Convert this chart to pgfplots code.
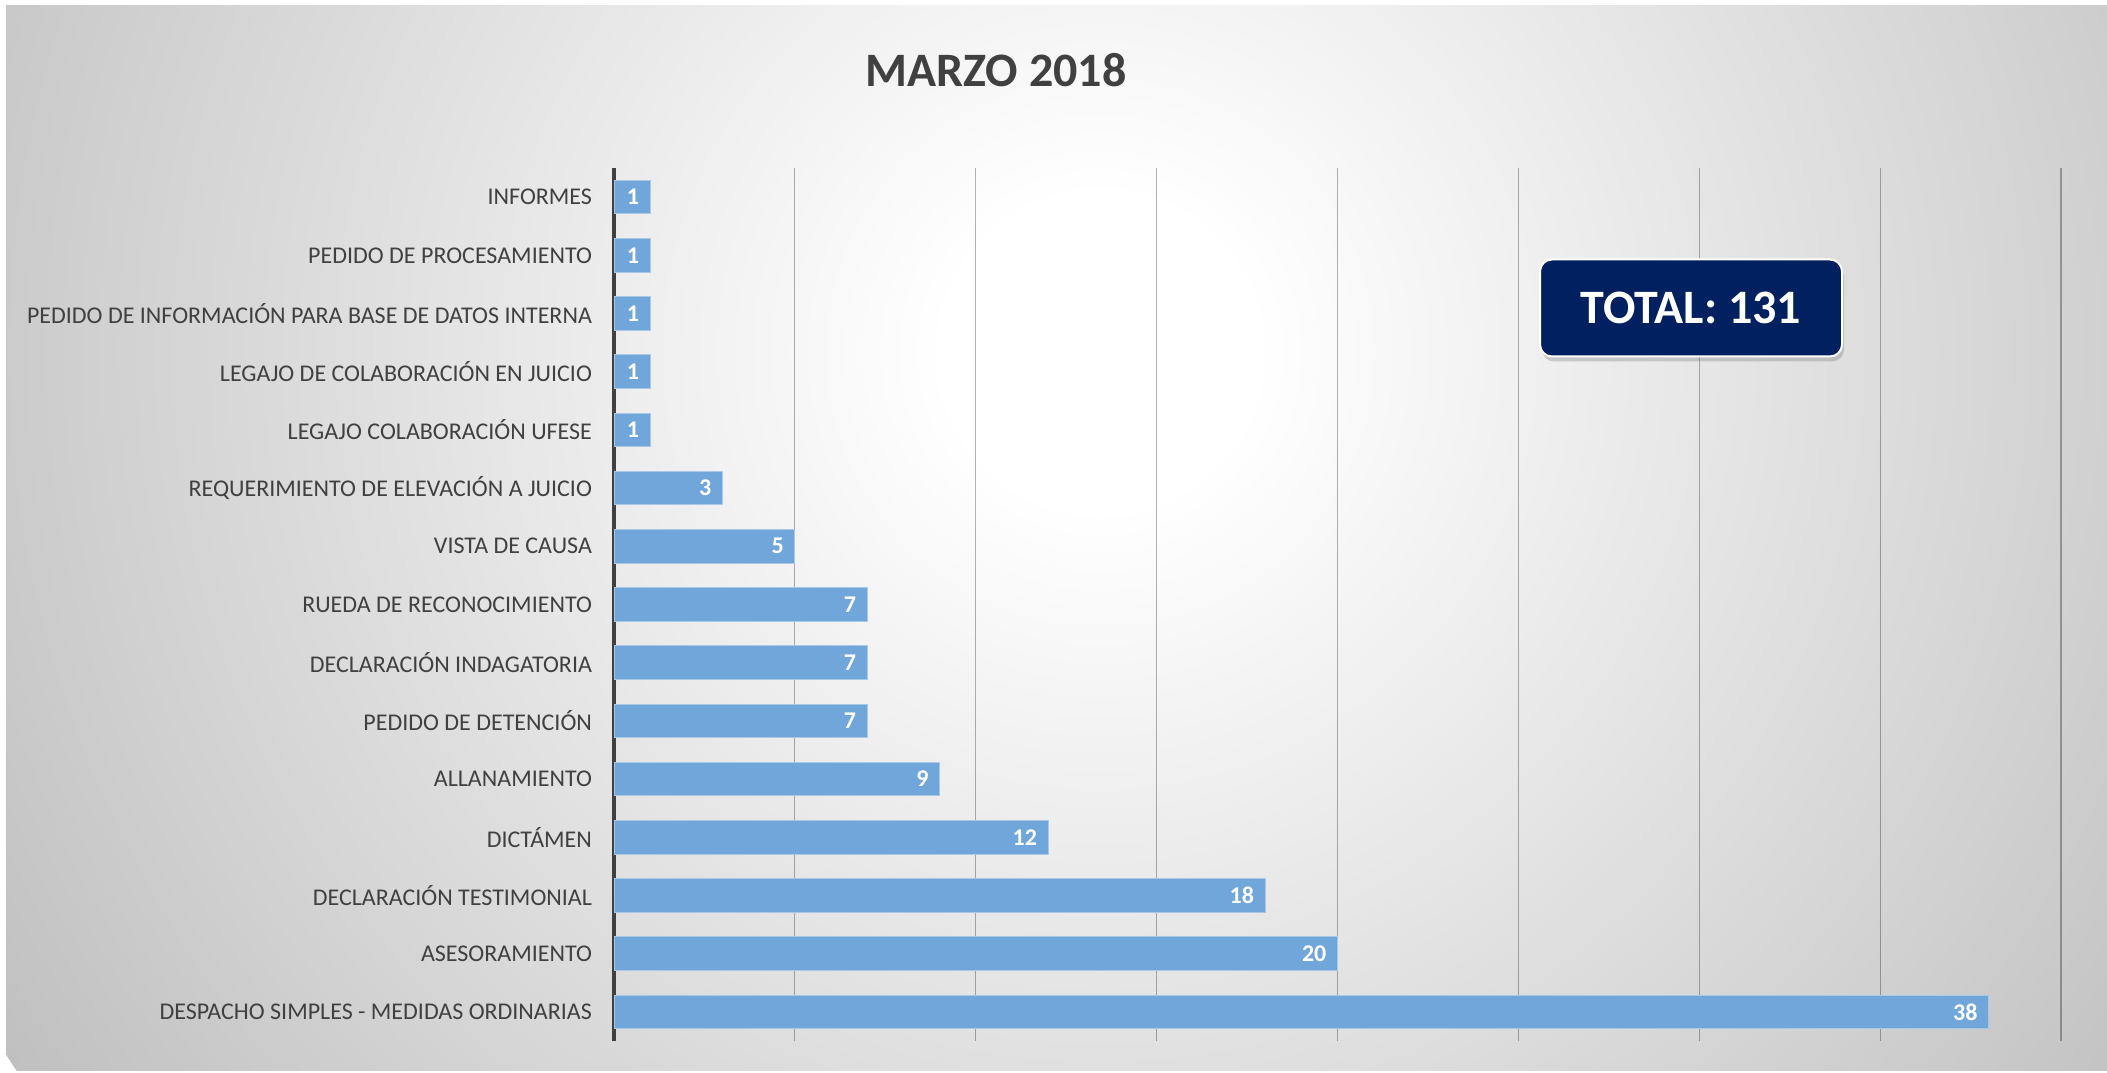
\documentclass[border=0pt]{standalone}
\usepackage{pgfplots}
\pgfplotsset{compat=1.18}
\usepackage{fontspec}
\setmainfont{Carlito}
\usetikzlibrary{shadows}
\definecolor{txt}{HTML}{404040}
\definecolor{barblue}{HTML}{70A6DA}
\definecolor{barline}{HTML}{A8C8E8}
\definecolor{navy}{HTML}{002060}
\definecolor{bggray}{HTML}{C0C0C0}
\pgfdeclareradialshading{bgshade}{\pgfpoint{0bp}{0bp}}{color(0bp)=(white); color(3bp)=(white); color(25bp)=(bggray); color(50bp)=(bggray)}

\begin{document}
\begin{tikzpicture}[x=0.5pt,y=0.5pt]
% units are pixels of the reference, origin bottom left
\path[use as bounding box] (0,0) rectangle (2107,1072);
\fill[white] (0,0) rectangle (2107,1072);
\begin{scope}
  \clip (6,2) rectangle (2107,1066);
  \shade[shading=bgshade] (1100,720) circle (1300);
\end{scope}

\node[anchor=base, font=\bfseries\fontsize{24}{28}\selectfont, text=txt] at (996,985) {MARZO 2018};

\begin{axis}[
  at={(307pt,15.5pt)}, anchor=south west,
  scale only axis,
  width=723.5pt, height=436.5pt,
  xbar, bar width=16.8pt,
  xmin=0, xmax=40, ymin=-0.5, ymax=14.5,
  axis lines*=left,
  x axis line style={draw=none},
  y axis line style={draw=txt, line width=2pt},
  xtick={0,5,...,40}, xticklabels={},
  xmajorgrids,
  grid style={draw=black, opacity=0.3, line width=0.6pt},
  major tick length=0,
  ytick={0,...,14},
  yticklabels={DESPACHO SIMPLES - MEDIDAS ORDINARIAS, ASESORAMIENTO, DECLARACIÓN TESTIMONIAL, DICTÁMEN, ALLANAMIENTO, PEDIDO DE DETENCIÓN, DECLARACIÓN INDAGATORIA, RUEDA DE RECONOCIMIENTO, VISTA DE CAUSA, REQUERIMIENTO DE ELEVACIÓN A JUICIO, LEGAJO COLABORACIÓN UFESE, LEGAJO DE COLABORACIÓN EN JUICIO, PEDIDO DE INFORMACIÓN PARA BASE DE DATOS INTERNA, PEDIDO DE PROCESAMIENTO, INFORMES},
  yticklabel style={font=\fontsize{12}{14}\selectfont, text=txt, xshift=-7.5pt},
  /pgf/number format/assume math mode=true,
  nodes near coords,
  every node near coord/.append style={anchor=east, xshift=-2pt, text=white, font=\bfseries\fontsize{12}{14}\selectfont},
  clip=false,
]
\addplot[fill=barblue, draw=barline, line width=0.5pt] coordinates {
  (38,0) (20,1) (18,2) (12,3) (9,4) (7,5) (7,6) (7,7)
  (5,8) (3,9) (1,10) (1,11) (1,12) (1,13) (1,14)
};
\end{axis}

\node[fill=navy, draw=white, line width=1pt, rounded corners=6pt,
  minimum width=151pt, minimum height=48.5pt, text=white,
  font=\bfseries\fontsize{24}{28}\selectfont,
  drop shadow={shadow xshift=1pt, shadow yshift=-2.5pt, opacity=0.35}]
  at (1691,764) {TOTAL: 131};
\end{tikzpicture}
\end{document}
